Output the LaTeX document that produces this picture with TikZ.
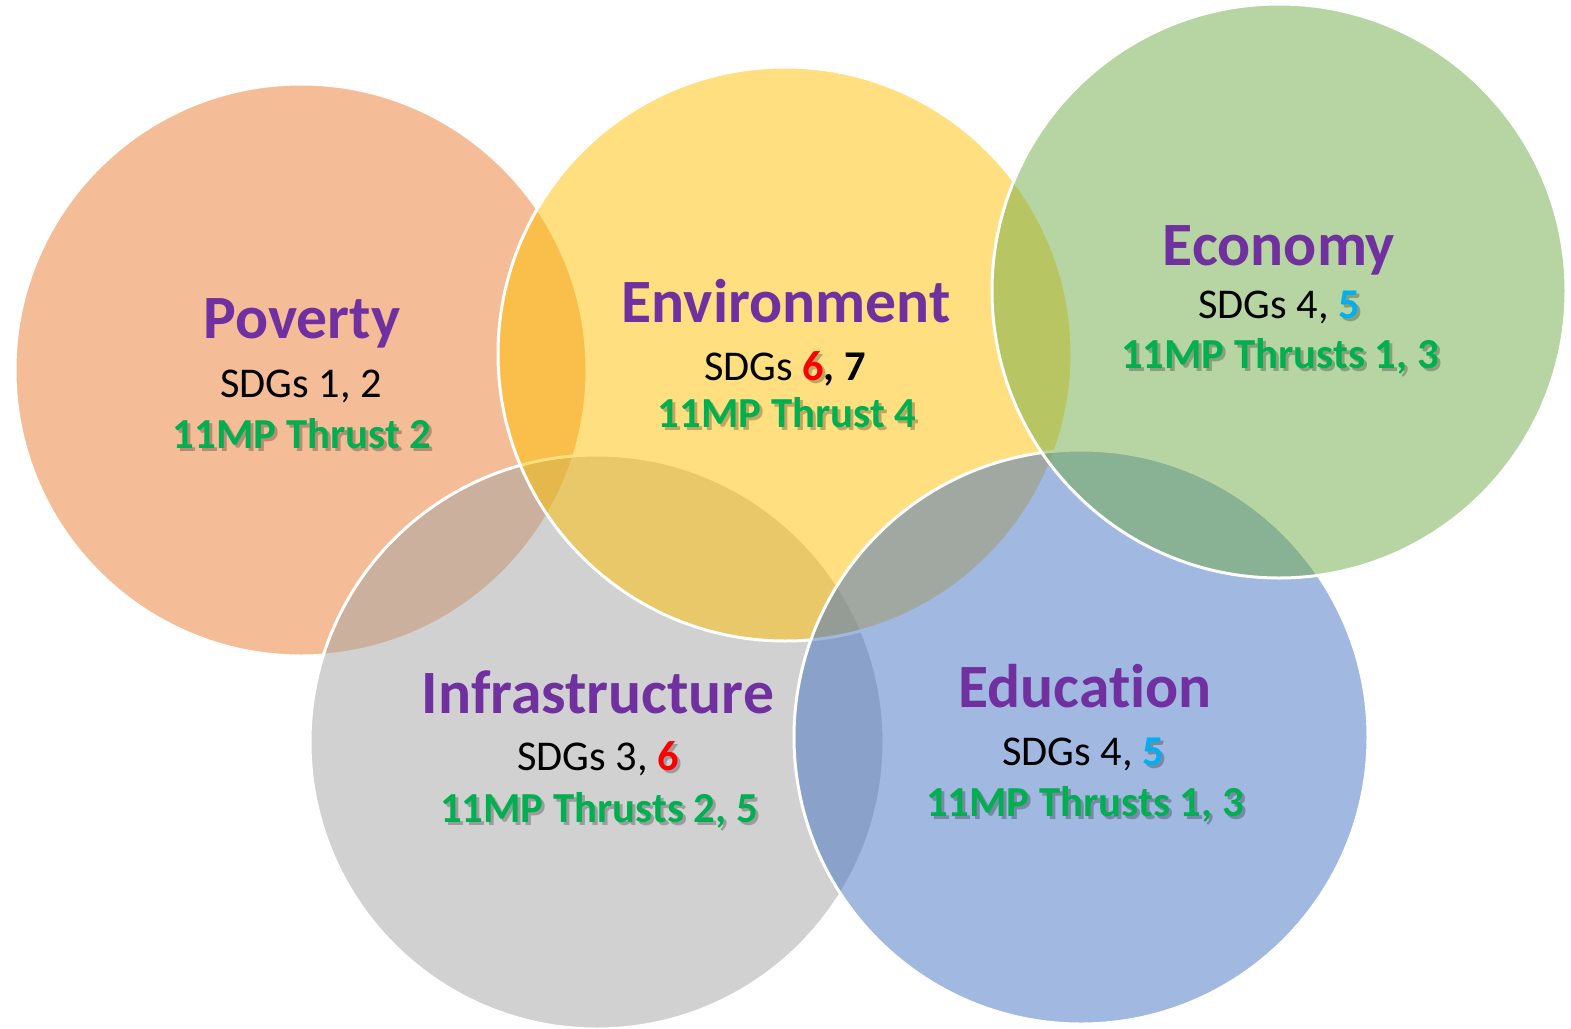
\documentclass[tikz,border=0pt]{standalone}
\usepackage{fontspec}
\setmainfont[Ligatures=CommonOff]{Carlito}
\definecolor{povc}{HTML}{ED7D31}
\definecolor{envc}{HTML}{FFC000}
\definecolor{ecoc}{HTML}{70AD47}
\definecolor{infc}{HTML}{A5A5A5}
\definecolor{educ}{HTML}{4472C4}
\definecolor{ttlpurple}{HTML}{7030A0}
\definecolor{thrgreen}{HTML}{00B050}
\definecolor{sdgred}{HTML}{FF0000}
\definecolor{sdgblue}{HTML}{00B0F0}
\begin{document}
\begin{tikzpicture}[x=0.5pt,y=-0.5pt,
  circ/.style={fill=#1, fill opacity=0.5, draw=white, line width=1.5pt},
  ttl/.style={anchor=base, inner sep=0pt, text=ttlpurple, font=\bfseries\fontsize{30.8}{36}\selectfont},
  sdg/.style={anchor=base, inner sep=0pt, font=\fontsize{21.2}{25}\selectfont},
  thr/.style={anchor=base, inner sep=0pt, text=thrgreen, font=\bfseries\fontsize{21.4}{25}\selectfont},
  shd/.style={text=black, text opacity=0.25}]
\useasboundingbox (0,0) rectangle (1571,1029);
% circles
\fill[white] (0,0) rectangle (1571,1029);
\draw[circ=povc] (301,370) circle[radius=143pt];
\draw[circ=infc] (597,742) circle[radius=143.5pt];
\draw[circ=envc] (785,354) circle[radius=143.5pt];
\draw[circ=educ] (1081,737) circle[radius=143.5pt];
\draw[circ=ecoc] (1279,291) circle[radius=143.5pt];
% Poverty
\node[ttl] (povT) at (302,338) {Poverty};
\node[sdg] (povS) at (301,397) {SDGs 1, 2};
\node[thr,shd] (povHs) at (305,451) {11MP Thrust 2};
\node[thr] (povH) at (302,448) {11MP Thrust 2};
% Environment
\node[ttl] (envT) at (786,322) {Environment};
\node[sdg,shd] (envSs) at (788,383) {\phantom{SDGs }\textbf{6}\phantom{\textbf{, 7}}};
\node[sdg] (envS) at (785,380) {SDGs \textbf{\textcolor{sdgred}{6}, 7}};
\node[thr,shd] (envHs) at (790,430) {11MP Thrust 4};
\node[thr] (envH) at (787,427) {11MP Thrust 4};
% Economy
\node[ttl] (ecoT) at (1279,265) {Economy};
\node[sdg,shd] (ecoSs) at (1282,321) {\phantom{SDGs 4, }\textbf{5}};
\node[sdg] (ecoS) at (1279,318) {SDGs 4, \textbf{\textcolor{sdgblue}{5}}};
\node[thr,shd] (ecoHs) at (1283,371) {11MP Thrusts 1, 3};
\node[thr] (ecoH) at (1280,368) {11MP Thrusts 1, 3};
% Infrastructure
\node[ttl] (infT) at (598,713) {Infrastructure};
\node[sdg,shd] (infSs) at (601,773) {\phantom{SDGs 3, }\textbf{6}};
\node[sdg] (infS) at (598,770) {SDGs 3, \textbf{\textcolor{sdgred}{6}}};
\node[thr,shd] (infHs) at (602,825) {11MP Thrusts 2, 5};
\node[thr] (infH) at (599,822) {11MP Thrusts 2, 5};
% Education
\node[ttl] (eduT) at (1085,707) {Education};
\node[sdg,shd] (eduSs) at (1086,768) {\phantom{SDGs 4, }\textbf{5}};
\node[sdg] (eduS) at (1083,765) {SDGs 4, \textbf{\textcolor{sdgblue}{5}}};
\node[thr,shd] (eduHs) at (1088,819) {11MP Thrusts 1, 3};
\node[thr] (eduH) at (1085,816) {11MP Thrusts 1, 3};
\end{tikzpicture}
\end{document}
